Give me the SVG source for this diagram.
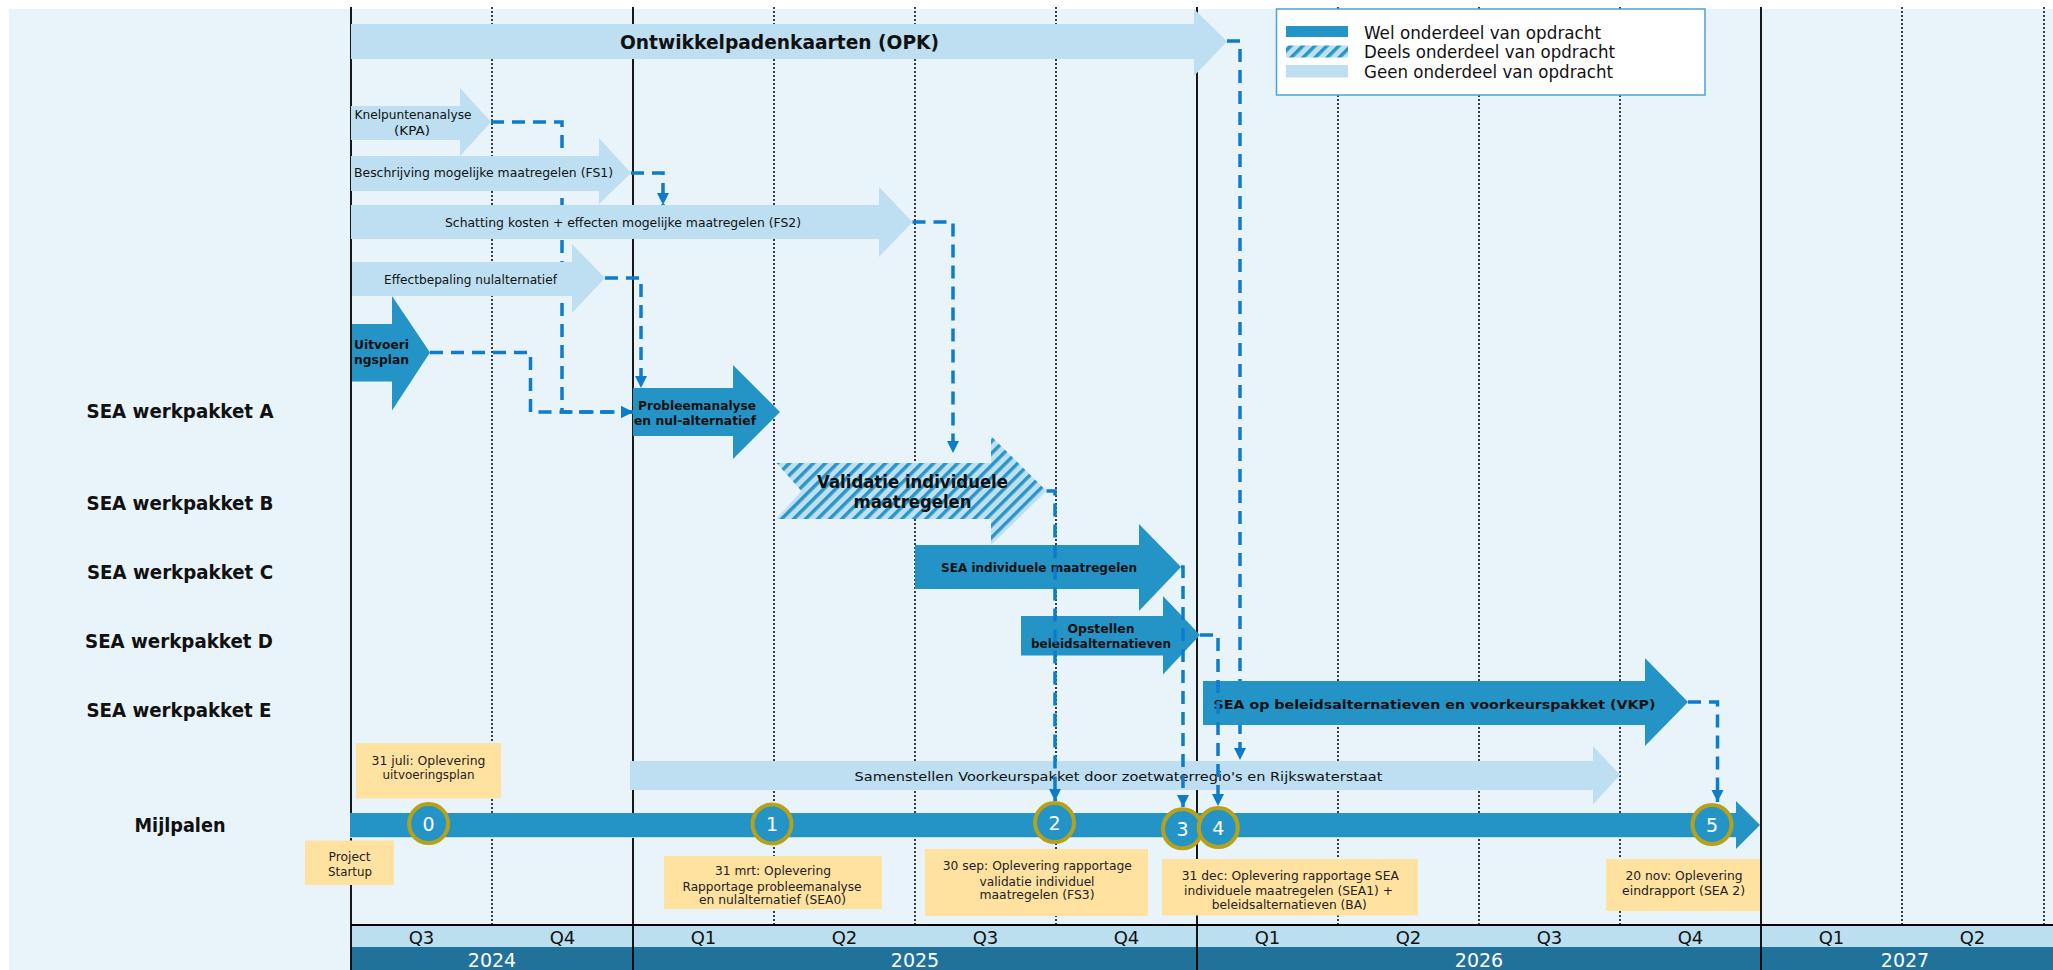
<svg xmlns="http://www.w3.org/2000/svg" width="2053" height="970" viewBox="0 0 2053 970">
<style>
text{font-family:"DejaVu Sans","Verdana",sans-serif;fill:#111}
.row{font-size:19px;font-weight:bold;text-anchor:middle}
.b13{font-size:13px;font-weight:bold}
.n13{font-size:13px}
.note{font-size:13px;text-anchor:middle;fill:#222}
.mid{text-anchor:middle}
.light{fill:#BDDFF1}
.dark{fill:#2494C7}
.hatch{fill:url(#hatch)}
.notebox{fill:#FFE1A0}
.solid{stroke:#000;stroke-width:1.8}
.dot{stroke:#000;stroke-width:1.5;stroke-dasharray:2 2}
.conn{fill:none;stroke:#0E7CCD;stroke-width:3.5;stroke-dasharray:13 8;marker-end:url(#ah)}
.ring{fill:#2494C7;stroke:#B5A21A;stroke-width:4}
.digit{font-size:19px;fill:#fff;text-anchor:middle}
.q{font-size:18px;text-anchor:middle}
.yr{font-size:19px;text-anchor:middle;fill:#fff}
.leg{font-size:17px}
</style>
<defs>
<pattern id="hatch" patternUnits="userSpaceOnUse" width="8.5" height="8.5" patternTransform="rotate(45)">
<rect width="8.5" height="8.5" fill="#BDE0F2"/>
<rect width="3.4" height="8.5" fill="#2B95C8"/>
</pattern>
<marker id="ah" markerUnits="userSpaceOnUse" markerWidth="13" markerHeight="13" refX="12" refY="6" orient="auto">
<path d="M0,0 L12,6 L0,12 z" fill="#0E7CCD"/>
</marker>
</defs>

<rect x="0" y="0" width="2053" height="970" fill="#fff"/>
<rect x="9" y="9" width="2044" height="961" fill="#E8F3FA"/>

<g id="axis">
<rect x="351" y="925" width="1702" height="22" fill="#BCDFF0"/>
<rect x="351" y="947" width="1702" height="23" fill="#21729A"/>
<line x1="351" y1="925" x2="2053" y2="925" stroke="#000" stroke-width="2"/>
<text class="q" x="421.5" y="944">Q3</text>
<text class="q" x="562.5" y="944">Q4</text>
<text class="q" x="703.5" y="944">Q1</text>
<text class="q" x="844.5" y="944">Q2</text>
<text class="q" x="985.5" y="944">Q3</text>
<text class="q" x="1126.5" y="944">Q4</text>
<text class="q" x="1267.5" y="944">Q1</text>
<text class="q" x="1408.5" y="944">Q2</text>
<text class="q" x="1549.5" y="944">Q3</text>
<text class="q" x="1690.5" y="944">Q4</text>
<text class="q" x="1831.5" y="944">Q1</text>
<text class="q" x="1972.5" y="944">Q2</text>
<text class="yr" x="492" y="967">2024</text>
<text class="yr" x="915" y="967">2025</text>
<text class="yr" x="1479" y="967">2026</text>
<text class="yr" x="1905" y="967">2027</text>
</g>

<g id="grid">
<line class="dot" x1="492" y1="7" x2="492" y2="924"/>
<line class="dot" x1="774" y1="7" x2="774" y2="924"/>
<line class="dot" x1="915" y1="7" x2="915" y2="924"/>
<line class="dot" x1="1056" y1="7" x2="1056" y2="924"/>
<line class="dot" x1="1338" y1="7" x2="1338" y2="924"/>
<line class="dot" x1="1479" y1="7" x2="1479" y2="924"/>
<line class="dot" x1="1620" y1="7" x2="1620" y2="924"/>
<line class="dot" x1="1902" y1="7" x2="1902" y2="924"/>
<line class="dot" x1="2044" y1="7" x2="2044" y2="924"/>
<line class="solid" x1="351" y1="7" x2="351" y2="970"/>
<line class="solid" x1="633" y1="7" x2="633" y2="970"/>
<line class="solid" x1="1197" y1="7" x2="1197" y2="970"/>
<line class="solid" x1="1761" y1="7" x2="1761" y2="970"/>
</g>

<g id="row-labels">
<text class="row" x="180" y="418" textLength="187" lengthAdjust="spacingAndGlyphs">SEA werkpakket A</text>
<text class="row" x="180" y="510" textLength="187" lengthAdjust="spacingAndGlyphs">SEA werkpakket B</text>
<text class="row" x="180" y="579" textLength="186" lengthAdjust="spacingAndGlyphs">SEA werkpakket C</text>
<text class="row" x="179" y="648" textLength="188" lengthAdjust="spacingAndGlyphs">SEA werkpakket D</text>
<text class="row" x="179" y="717" textLength="185" lengthAdjust="spacingAndGlyphs">SEA werkpakket E</text>
<text class="row" x="180" y="832" textLength="91" lengthAdjust="spacingAndGlyphs">Mijlpalen</text>
</g>

<g id="connectors-back">
<path class="conn" d="M491,122 H562 V412 H633"/>
<path class="conn" d="M1227,41 H1240 V760"/>
</g>

<g id="opk">
<polygon class="light" points="351,24 1194,24 1194,9 1227,41.5 1194,76 1194,59 351,59"/>
<text x="779.5" y="49" class="mid" style="font-size:20px;font-weight:bold" textLength="319" lengthAdjust="spacingAndGlyphs">Ontwikkelpadenkaarten (OPK)</text>
</g>

<g id="kpa">
<polygon class="light" points="351,106 460,106 460,88 491,122 460,156 460,140 351,140"/>
<text class="n13 mid" x="413" y="119" textLength="117" lengthAdjust="spacingAndGlyphs">Knelpuntenanalyse</text>
<text class="n13 mid" x="412" y="135" textLength="36" lengthAdjust="spacingAndGlyphs">(KPA)</text>
</g>

<g id="fs1">
<polygon class="light" points="351,156 599,156 599,138 631,173 599,204 599,191 351,191"/>
<text class="n13" x="354" y="177" textLength="259" lengthAdjust="spacingAndGlyphs">Beschrijving mogelijke maatregelen (FS1)</text>
</g>

<g id="fs2">
<polygon class="light" points="351,205 879,205 879,187 912.5,222 879,257 879,239 351,239"/>
<text class="n13" x="445" y="227" textLength="356" lengthAdjust="spacingAndGlyphs">Schatting kosten + effecten mogelijke maatregelen (FS2)</text>
</g>

<g id="effect">
<polygon class="light" points="352,262 572,262 572,244 605,278 572,313 572,296 352,296"/>
<text class="n13" x="384" y="283.5" textLength="173" lengthAdjust="spacingAndGlyphs">Effectbepaling nulalternatief</text>
</g>

<g id="uitvoering">
<polygon class="dark" points="352,324 392,324 392,296 430,352.5 392,410.5 392,381.5 352,381.5"/>
<text x="354" y="349.3" style="font-size:12px;font-weight:bold" textLength="55" lengthAdjust="spacingAndGlyphs">Uitvoeri</text>
<text x="354" y="363.5" style="font-size:12px;font-weight:bold" textLength="55" lengthAdjust="spacingAndGlyphs">ngsplan</text>
</g>

<g id="wpA">
<polygon class="dark" points="633,388 733,388 733,365 780,412 733,459 733,436 633,436"/>
<text class="b13 mid" x="697" y="410" textLength="118" lengthAdjust="spacingAndGlyphs">Probleemanalyse</text>
<text class="b13 mid" x="695" y="425" textLength="122" lengthAdjust="spacingAndGlyphs">en nul-alternatief</text>
</g>

<g id="wpB">
<polygon class="hatch" points="776.5,463 991,463 991,436 1046.5,491 991,545 991,519 776.5,519 801.5,491"/>
<text class="mid" x="912.5" y="488" style="font-size:17px;font-weight:bold" textLength="191" lengthAdjust="spacingAndGlyphs">Validatie individuele</text>
<text class="mid" x="912.5" y="508" style="font-size:17px;font-weight:bold" textLength="118" lengthAdjust="spacingAndGlyphs">maatregelen</text>
</g>

<g id="wpC">
<polygon class="dark" points="915,545 1139,545 1139,524 1181,567 1139,611 1139,589 915,589"/>
<text class="b13" x="941" y="572" textLength="196" lengthAdjust="spacingAndGlyphs">SEA individuele maatregelen</text>
</g>

<g id="wpD">
<polygon class="dark" points="1021,616 1163,616 1163,596 1200,635 1163,674.5 1163,655.5 1021,655.5"/>
<text class="b13 mid" x="1101" y="633" textLength="67" lengthAdjust="spacingAndGlyphs">Opstellen</text>
<text class="b13 mid" x="1101" y="647.6" textLength="140" lengthAdjust="spacingAndGlyphs">beleidsalternatieven</text>
</g>

<g id="wpE">
<polygon class="dark" points="1203,681 1645,681 1645,658 1688,702 1645,746 1645,725 1203,725"/>
<text class="b13" x="1213.5" y="709" textLength="442" lengthAdjust="spacingAndGlyphs">SEA op beleidsalternatieven en voorkeurspakket (VKP)</text>
</g>

<g id="samenstellen">
<polygon class="light" points="630,761 1593,761 1593,746 1620,775 1593,804.5 1593,790 630,790"/>
<text class="n13" x="854.5" y="780.5" textLength="528" lengthAdjust="spacingAndGlyphs">Samenstellen Voorkeurspakket door zoetwaterregio's en Rijkswaterstaat</text>
</g>

<g id="milestone-bar">
<polygon class="dark" points="350,813 1736,813 1736,801 1760,825 1736,849 1736,837 350,837"/>
<line x1="350" y1="837.5" x2="1736" y2="837.5" stroke="#BDDFF1" stroke-width="1"/>
</g>

<g id="note-startup">
<rect class="notebox" x="305" y="840.5" width="89" height="44.5"/>
<text class="note" x="349.5" y="861" textLength="42" lengthAdjust="spacingAndGlyphs">Project</text>
<text class="note" x="350" y="876" textLength="44" lengthAdjust="spacingAndGlyphs">Startup</text>
</g>

<g id="note-0">
<rect class="notebox" x="356" y="743" width="145" height="55.5"/>
<text class="note" x="428.5" y="765" textLength="114" lengthAdjust="spacingAndGlyphs">31 juli: Oplevering</text>
<text class="note" x="428.5" y="779" textLength="92" lengthAdjust="spacingAndGlyphs">uitvoeringsplan</text>
</g>

<g id="note-1">
<rect class="notebox" x="664" y="856" width="218" height="53"/>
<text class="note" x="773" y="875" textLength="116" lengthAdjust="spacingAndGlyphs">31 mrt: Oplevering</text>
<text class="note" x="772" y="890.5" textLength="179" lengthAdjust="spacingAndGlyphs">Rapportage probleemanalyse</text>
<text class="note" x="772.5" y="903.5" textLength="147" lengthAdjust="spacingAndGlyphs">en nulalternatief (SEA0)</text>
</g>

<g id="note-2">
<rect class="notebox" x="925" y="849" width="223" height="67"/>
<text class="note" x="1037.3" y="870" textLength="189" lengthAdjust="spacingAndGlyphs">30 sep: Oplevering rapportage</text>
<text class="note" x="1037" y="885.5" textLength="115" lengthAdjust="spacingAndGlyphs">validatie individuel</text>
<text class="note" x="1037" y="899" textLength="115" lengthAdjust="spacingAndGlyphs">maatregelen (FS3)</text>
</g>

<g id="note-34">
<rect class="notebox" x="1162" y="859" width="256" height="56.5"/>
<text class="note" x="1290.3" y="880" textLength="217" lengthAdjust="spacingAndGlyphs">31 dec: Oplevering rapportage SEA</text>
<text class="note" x="1288.5" y="895" textLength="209" lengthAdjust="spacingAndGlyphs">individuele maatregelen (SEA1) +</text>
<text class="note" x="1289.3" y="908.5" textLength="155" lengthAdjust="spacingAndGlyphs">beleidsalternatieven (BA)</text>
</g>

<g id="note-5">
<rect class="notebox" x="1606" y="859" width="154" height="52"/>
<text class="note" x="1684" y="880" textLength="117" lengthAdjust="spacingAndGlyphs">20 nov: Oplevering</text>
<text class="note" x="1683.5" y="895" textLength="123" lengthAdjust="spacingAndGlyphs">eindrapport (SEA 2)</text>
</g>

<g id="m0"><circle class="ring" cx="428.6" cy="823.6" r="19.5"/><text class="digit" x="428.6" y="830.5">0</text></g>
<g id="m1"><circle class="ring" cx="772" cy="824" r="19.5"/><text class="digit" x="772" y="831">1</text></g>
<g id="m2"><circle class="ring" cx="1054.5" cy="822.6" r="19.5"/><text class="digit" x="1054.5" y="829.5">2</text></g>
<g id="m3"><circle class="ring" cx="1182.5" cy="828.8" r="19.5"/><text class="digit" x="1182.5" y="835.8">3</text></g>
<g id="m4"><circle class="ring" cx="1218.3" cy="827.5" r="19.5"/><text class="digit" x="1218.3" y="834.5">4</text></g>
<g id="m5"><circle class="ring" cx="1712" cy="824.5" r="19.5"/><text class="digit" x="1712" y="831.5">5</text></g>

<g id="connectors">
<path class="conn" d="M430,352.5 H530.5 V412 H633"/>
<path class="conn" d="M631,173 H663 V205"/>
<path class="conn" d="M605,278 H641 V388"/>
<path class="conn" d="M912.5,222 H953 V453"/>
<path class="conn" d="M1046.5,491 H1055 V801"/>
<path class="conn" d="M1181,567 H1183 V807"/>
<path class="conn" d="M1200,635 H1218 V806"/>
<path class="conn" d="M1688,702 H1717.5 V802"/>
</g>

<g id="legend">
<rect x="1276.5" y="9" width="428.5" height="86" fill="#fff" stroke="#4BA3D3" stroke-width="1.5"/>
<rect x="1286" y="26" width="62" height="11" class="dark"/>
<rect x="1286" y="45.5" width="62" height="12" class="hatch"/>
<rect x="1286" y="65" width="62" height="12.5" class="light"/>
<text class="leg" x="1364" y="39.3" textLength="237" lengthAdjust="spacingAndGlyphs">Wel onderdeel van opdracht</text>
<text class="leg" x="1364" y="58.3" textLength="251" lengthAdjust="spacingAndGlyphs">Deels onderdeel van opdracht</text>
<text class="leg" x="1364" y="77.7" textLength="249" lengthAdjust="spacingAndGlyphs">Geen onderdeel van opdracht</text>
</g>
</svg>
